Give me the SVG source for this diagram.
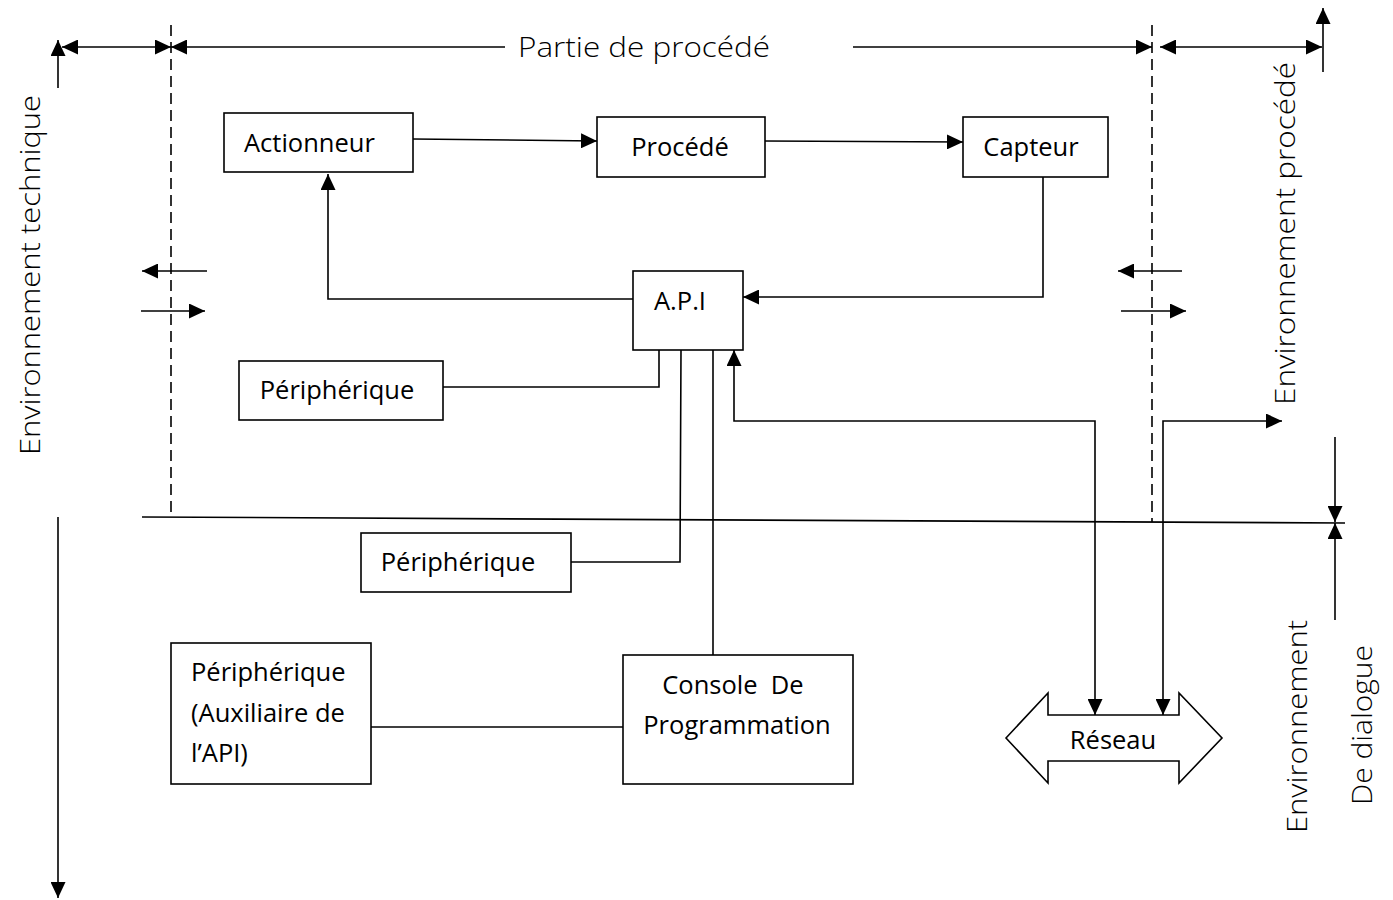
<svg xmlns="http://www.w3.org/2000/svg" width="1393" height="900" viewBox="0 0 1393 900">
  <style>
    .box { fill: #fff; stroke: #000; stroke-width: 1.6; }
    .ln { fill: none; stroke: #000; stroke-width: 1.6; }
    .dash { fill: none; stroke: #000; stroke-width: 1.6; stroke-dasharray: 11 6; }
    .lbl { font-family: "Open Sans", "Liberation Sans", sans-serif; font-size: 25.5px; fill: #000; white-space: pre; }
    .big { font-family: "Open Sans", "Liberation Sans", sans-serif; font-weight: 300; font-size: 28px; fill: #000; }
  </style>
  <defs>
    <marker id="ah" markerUnits="userSpaceOnUse" markerWidth="17" markerHeight="15" refX="16" refY="7.5" orient="auto-start-reverse">
      <path d="M0,0 L16,7.5 L0,15 Z" fill="#000"/>
    </marker>
  </defs>

  <!-- frame: boundaries of the process zone -->
  <g id="frame">
    <line class="dash" x1="171" y1="25" x2="171" y2="517"/>
    <line class="dash" x1="1152" y1="25" x2="1152" y2="522"/>
    <line class="ln" x1="142" y1="517" x2="1345" y2="523"/>
    <!-- top dimension line -->
    <line class="ln" x1="62" y1="47" x2="171" y2="47" marker-start="url(#ah)" marker-end="url(#ah)"/>
    <line class="ln" x1="171" y1="47" x2="505" y2="47" marker-start="url(#ah)"/>
    <line class="ln" x1="853" y1="47" x2="1152" y2="47" marker-end="url(#ah)"/>
    <line class="ln" x1="1160" y1="47" x2="1322" y2="47" marker-start="url(#ah)" marker-end="url(#ah)"/>
    <line class="ln" x1="58" y1="88" x2="58" y2="40" marker-end="url(#ah)"/>
    <line class="ln" x1="1323" y1="72" x2="1323" y2="8" marker-end="url(#ah)"/>
    <!-- left vertical extent -->
    <line class="ln" x1="58" y1="517" x2="58" y2="898" marker-end="url(#ah)"/>
    <!-- right dialogue extent -->
    <line class="ln" x1="1335" y1="437" x2="1335" y2="522" marker-end="url(#ah)"/>
    <line class="ln" x1="1335" y1="620" x2="1335" y2="523" marker-end="url(#ah)"/>
    <!-- exchange arrows across boundaries -->
    <line class="ln" x1="207" y1="271" x2="142" y2="271" marker-end="url(#ah)"/>
    <line class="ln" x1="141" y1="311" x2="205" y2="311" marker-end="url(#ah)"/>
    <line class="ln" x1="1182" y1="271" x2="1118" y2="271" marker-end="url(#ah)"/>
    <line class="ln" x1="1121" y1="311" x2="1186" y2="311" marker-end="url(#ah)"/>
  </g>

  <!-- zone labels -->
  <g id="labels">
    <text class="big" x="518" y="57" textLength="252" lengthAdjust="spacingAndGlyphs">Partie de procédé</text>
    <text class="big" transform="translate(40,455) rotate(-90)" textLength="360" lengthAdjust="spacingAndGlyphs">Environnement technique</text>
    <text class="big" transform="translate(1295,405) rotate(-90)" textLength="343" lengthAdjust="spacingAndGlyphs">Environnement procédé</text>
    <text class="big" transform="translate(1307,833) rotate(-90)" textLength="213" lengthAdjust="spacingAndGlyphs">Environnement</text>
    <text class="big" transform="translate(1372,805) rotate(-90)" textLength="160" lengthAdjust="spacingAndGlyphs">De dialogue</text>
  </g>

  <!-- connectors -->
  <g id="connectors">
    <line class="ln" x1="413" y1="139" x2="597" y2="141" marker-end="url(#ah)"/>
    <line class="ln" x1="765" y1="141" x2="963" y2="142" marker-end="url(#ah)"/>
    <polyline class="ln" points="1043,177 1043,297 743,297" marker-end="url(#ah)"/>
    <polyline class="ln" points="633,299 328,299 328,174" marker-end="url(#ah)"/>
    <polyline class="ln" points="443,387 659,387 659,350"/>
    <polyline class="ln" points="571,562 680,562 681,350"/>
    <line class="ln" x1="713" y1="350" x2="713" y2="655"/>
    <polyline class="ln" points="1095,715 1095,421 734,421 734,350" marker-start="url(#ah)" marker-end="url(#ah)"/>
    <polyline class="ln" points="1163,715 1163,421 1282,421" marker-start="url(#ah)" marker-end="url(#ah)"/>
    <line class="ln" x1="371" y1="727" x2="623" y2="727"/>
  </g>

  <g id="actionneur">
    <rect class="box" x="224" y="113" width="189" height="59"/>
    <text class="lbl" x="244" y="152">Actionneur</text>
  </g>
  <g id="procede">
    <rect class="box" x="597" y="117" width="168" height="60"/>
    <text class="lbl" x="680" y="156" text-anchor="middle">Procédé</text>
  </g>
  <g id="capteur">
    <rect class="box" x="963" y="117" width="145" height="60"/>
    <text class="lbl" x="1031" y="156" text-anchor="middle">Capteur</text>
  </g>
  <g id="api">
    <rect class="box" x="633" y="271" width="110" height="79"/>
    <text class="lbl" x="680" y="310" text-anchor="middle">A.P.I</text>
  </g>
  <g id="peripherique1">
    <rect class="box" x="239" y="361" width="204" height="59"/>
    <text class="lbl" x="337" y="399" text-anchor="middle">Périphérique</text>
  </g>
  <g id="peripherique2">
    <rect class="box" x="361" y="533" width="210" height="59"/>
    <text class="lbl" x="458" y="571" text-anchor="middle">Périphérique</text>
  </g>
  <g id="peripherique-aux">
    <rect class="box" x="171" y="643" width="200" height="141"/>
    <text class="lbl" x="191" y="681">Périphérique</text>
    <text class="lbl" x="191" y="722">(Auxiliaire de</text>
    <text class="lbl" x="191" y="762">l’API)</text>
  </g>
  <g id="console">
    <rect class="box" x="623" y="655" width="230" height="129"/>
    <text class="lbl" x="733" y="694" text-anchor="middle" xml:space="preserve">Console  De</text>
    <text class="lbl" x="737" y="734" text-anchor="middle">Programmation</text>
  </g>
  <g id="reseau">
    <path class="box" d="M1006,738 L1048,693 L1048,715 L1179,715 L1179,693 L1222,738 L1179,783 L1179,761 L1048,761 L1048,783 Z"/>
    <text class="lbl" x="1113" y="749" text-anchor="middle">Réseau</text>
  </g>
</svg>
